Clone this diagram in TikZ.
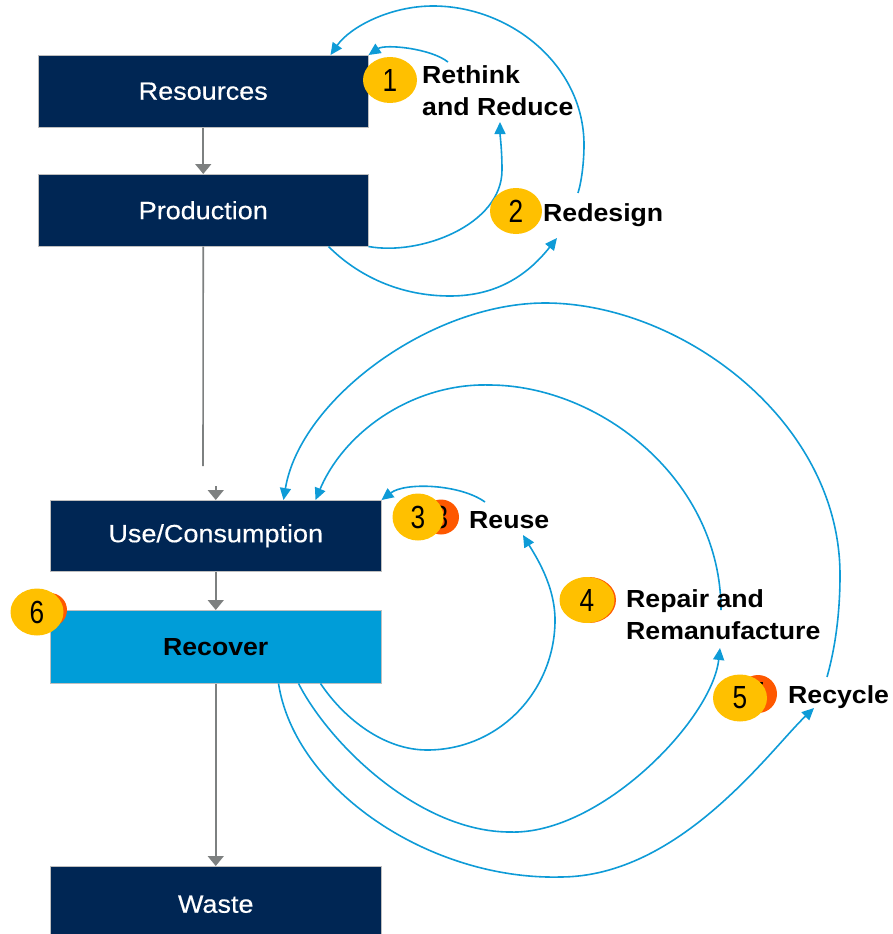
\documentclass[tikz,border=0pt]{standalone}
\usepackage{fontspec}
\usetikzlibrary{arrows.meta,shapes.geometric}
\newfontfamily\boxfont[FakeStretch=1.08,FakeBold=0.4]{Liberation Sans}
\newfontfamily\lblfont[FakeStretch=1.08]{Liberation Sans}
\newfontfamily\numfont[FakeStretch=0.82]{Liberation Sans}
\definecolor{navy}{RGB}{0,38,84}
\definecolor{recblue}{RGB}{0,157,216}
\definecolor{arcblue}{RGB}{14,155,215}
\definecolor{ybadge}{RGB}{255,192,0}
\definecolor{obadge}{RGB}{254,88,0}
\definecolor{grayarr}{RGB}{125,128,128}
\begin{document}
\begin{tikzpicture}[x=1pt,y=-1pt,
  box/.style={draw=black!25,line width=0.5pt,fill=navy,text=white,
    minimum width=331pt,minimum height=72pt,inner sep=0pt,anchor=north west,
    font=\boxfont\fontsize{25}{30}\selectfont},
  lbl/.style={inner sep=0pt,text=black,font=\lblfont\bfseries\fontsize{24.7}{32}\selectfont},
  ybadgestyle/.style={ellipse,fill=ybadge,minimum width=54pt,minimum height=46pt,inner sep=0pt,
    font=\numfont\fontsize{32}{32}\selectfont},
  obadgestyle/.style={ellipse,fill=obadge,inner sep=0pt,
    font=\numfont\fontsize{32}{32}\selectfont},
  grayline/.style={draw=grayarr,line width=1.6pt},
  grayarrow/.style={grayline,-{Triangle[length=10pt,width=16pt]}},
  arcline/.style={draw=arcblue,line width=1.6pt,-{Triangle[length=12pt,width=11pt]}}]
\useasboundingbox (0,0) rectangle (892,934);

% boxes
\node[box,minimum width=330pt] (res) at (38,55) {Resources};
\node[box,minimum width=330pt] (prod) at (38,174) {Production};
\node[box,minimum height=71pt] (use) at (50,500) {Use/Consumption};
\node[box,fill=recblue,text=black,minimum height=73pt,font=\lblfont\bfseries\fontsize{24.7}{30}\selectfont] (rec) at (50,610) {Recover};
\node[box,minimum height=76pt] (waste) at (50,866) {Waste};

% gray flow
\draw[grayarrow] (res.south) -- (prod.north);
\coordinate (pbreak) at (203,466);
\draw[grayline] (prod.south) -- (pbreak);
\draw[grayarrow] ([yshift=14pt]use.north) -- (use.north);
\draw[grayarrow] (use.south) -- (rec.north);
\draw[grayarrow] (rec.south) -- (waste.north);

% coordinates for arcs
\coordinate (a1s) at (448,62);
\coordinate (a2e) at (500,122);
\coordinate (a3s) at ([xshift=-40pt]prod.south east);
\coordinate (a3e) at (557,238);
\coordinate (a4s) at (578,193);
\coordinate (a4e) at ([xshift=-38pt]res.north east);
\coordinate (b1s) at (485,502);
\coordinate (b2s) at ([xshift=-61pt]rec.south east);
\coordinate (b2e) at (523,535);
\coordinate (b3s) at ([xshift=-83pt]rec.south east);
\coordinate (b3e) at (720,648);
\coordinate (b4s) at ([xshift=-103pt]rec.south east);
\coordinate (b4e) at (814,708);
\coordinate (b5s) at (721,610);
\coordinate (b5e) at ([xshift=-66pt]use.north east);
\coordinate (b6s) at (827,677);
\coordinate (b6e) at ([xshift=-98pt]use.north east);

% upper arcs
\draw[arcline] (a1s) .. controls (430,48) and (385,44) .. (res.north east);
\draw[arcline] (prod.south east) .. controls (420,256) and (502,225) .. (502,170)
  .. controls (502,150) and (500,135) .. (a2e);
\draw[arcline] (a3s) .. controls (358,276) and (400,296) .. (450,296)
  .. controls (500,296) and (530,272) .. (a3e);
\draw[arcline] (a4s) .. controls (582,180) and (584,160) .. (584,145)
  .. controls (584,65) and (510,6) .. (433,6)
  .. controls (390,6) and (350,27) .. (a4e);

% lower arcs
\draw[arcline] (b1s) .. controls (460,484) and (405,482) .. (use.north east);
\draw[arcline] (b2s) .. controls (345,720) and (385,750) .. (427,750)
  .. controls (500,750) and (555,690) .. (555,620)
  .. controls (555,585) and (535,555) .. (b2e);
\draw[arcline] (b3s) .. controls (330,745) and (420,832) .. (510,832)
  .. controls (600,835) and (712,720) .. (b3e);
\draw[arcline] (b4s) .. controls (295,790) and (430,880) .. (560,877)
  .. controls (680,877) and (770,750) .. (b4e);
\draw[arcline] (b5s) .. controls (721,480) and (600,385) .. (489,385)
  .. controls (415,383) and (345,430) .. (b5e);
\draw[arcline] (b6s) .. controls (836,645) and (840,610) .. (840,575)
  .. controls (840,420) and (680,303) .. (545,303)
  .. controls (430,303) and (300,400) .. (b6e);

% badges
\node[obadgestyle,minimum width=36pt,minimum height=35pt] (o3) at (441,517) {3};
\node[obadgestyle,minimum width=54pt,minimum height=46pt] (o4) at (589,600) {};
\node[obadgestyle,minimum width=38pt,minimum height=38pt] (o5) at (758,694) {5};
\node[obadgestyle,minimum width=34pt,minimum height=34pt] (o6) at (50,610) {};
\node[ybadgestyle] (n1) at (390,80) {1};
\node[ybadgestyle,minimum width=52pt] (n2) at (516,211) {2};
\node[ybadgestyle,minimum width=51pt,minimum height=47pt] (n3) at (418,517) {3};
\node[ybadgestyle,minimum width=55pt] (n4) at (587,600) {4};
\node[ybadgestyle,minimum height=47pt] (n5) at (740,698) {5};
\node[ybadgestyle,minimum width=53pt,minimum height=47pt] (n6) at (37,612) {6};

% labels
\node[lbl,anchor=north west,align=left] (l1) at (422,65.5) {Rethink\\and Reduce};
\node[lbl,anchor=base west] (l2) at (543,221) {Redesign};
\node[lbl,anchor=base west] (l3) at (469,528) {Reuse};
\node[lbl,anchor=north west,align=left] (l4) at (626,589.5) {Repair and\\Remanufacture};
\node[lbl,anchor=base west] (l5) at (788,703) {Recycle};
\end{tikzpicture}
\end{document}
